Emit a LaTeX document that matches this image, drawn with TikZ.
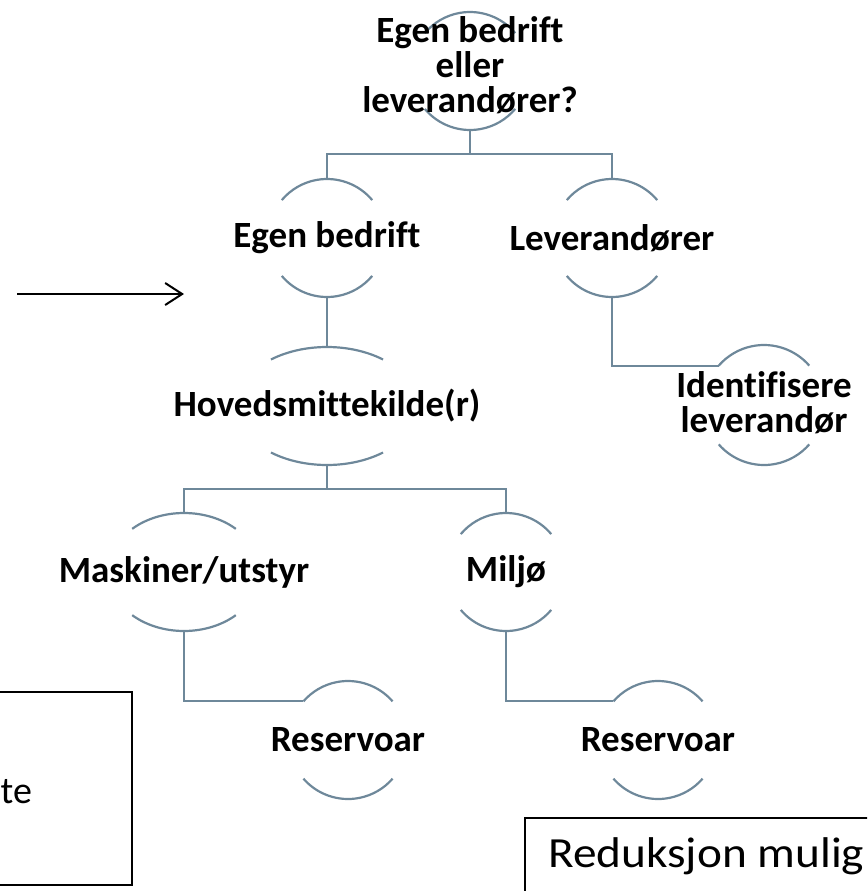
\documentclass[tikz,border=0pt]{standalone}
\usepackage{fontspec}
\setmainfont{Carlito}[Ligatures=NoCommon]
\usetikzlibrary{arrows.meta,calc}
\definecolor{connc}{RGB}{110,136,154}
\tikzset{
  conn/.style={draw=connc, line width=2.2pt},
  lbl/.style={font=\bfseries\fontsize{37}{35}\selectfont, align=center, inner sep=0pt, text=black},
  plaintxt/.style={font=\fontsize{43}{48}\selectfont, inner sep=0pt, text=black},
  boxline/.style={draw=black, line width=2.5pt},
}
\newcommand{\wide}[1]{\scalebox{1.1}[1]{#1}}
% [node options]{name}{center}{rx}{ry}{angle}{text}
\newcommand{\hnode}[7][]{%
  \coordinate (#2) at (#3);
  \path (#2) ++({180-#6}:#4pt and #5pt) coordinate (#2-tl);
  \path (#2) ++(0,#5pt) coordinate (#2-top);
  \path (#2) ++(0,-#5pt) coordinate (#2-bot);
  \draw[conn] (#2) ++(#6:#4pt and #5pt) arc[start angle=#6, end angle={180-#6}, x radius=#4pt, y radius=#5pt];
  \draw[conn] (#2) ++({180+#6}:#4pt and #5pt) arc[start angle={180+#6}, end angle={360-#6}, x radius=#4pt, y radius=#5pt];
  \node[lbl,#1] (#2-txt) at (#2) {#7};
}
\begin{document}
\begin{tikzpicture}[x=1pt,y=1pt]
\useasboundingbox (0,0) rectangle (867,-891);
\clip (0,0) rectangle (867,-891);

% hierarchy nodes
\hnode[yshift=6pt]{T}{470,-71}{59}{59}{40}{Egen bedrift\\eller\\leverandører?}
\hnode{E}{327,-238}{59}{59}{40}{Egen bedrift}
\hnode{L}{612,-238}{59}{59}{40}{Leverandører}
\hnode[yshift=2pt]{I}{764,-405}{60}{60}{41}{Identifisere\\leverandør}
\hnode{H}{327,-406}{91}{59}{52}{Hovedsmittekilde(r)}
\hnode{M}{184,-572}{76}{59}{47}{Maskiner/utstyr}
\hnode{Mi}{506,-572}{59}{59}{40}{Miljø}
\hnode{R1}{348,-740}{59}{59}{41}{Reservoar}
\hnode{R2}{658,-740}{59}{59}{41}{Reservoar}

% bars
\coordinate (Tbar) at (470,-154);
\coordinate (Hbar) at (327,-489);

% connectors
\draw[conn] (T-bot) -- (Tbar);
\draw[conn] (E-top) |- (Tbar) -| (L-top);
\draw[conn] (E-bot) -- (H-top);
\draw[conn] (L-bot) |- (I-tl);
\draw[conn] (H-bot) -- (Hbar);
\draw[conn] (M-top) |- (Hbar) -| (Mi-top);
\draw[conn] (M-bot) |- (R1-tl);
\draw[conn] (Mi-bot) |- (R2-tl);

% arrow
\coordinate (a1) at (17,-294);
\coordinate (a2) at (184,-294);
\draw[line width=2pt, -{Straight Barb[length=17pt,width=22pt,line width=2pt]}] (a1) -- (a2);

% left box (cut off)
\draw[boxline] (-40,-692) rectangle (132,-885);
\node[plaintxt, font=\fontsize{38}{44}\selectfont, anchor=base west] (te) at (0.5,-803) {te};

% right box (cut off)
\draw[boxline, line width=2pt] (525,-818) rectangle (920,-940);
\node[plaintxt, anchor=base west] (red) at (548,-867) {\wide{Reduksjon mulig}};
\end{tikzpicture}
\end{document}
